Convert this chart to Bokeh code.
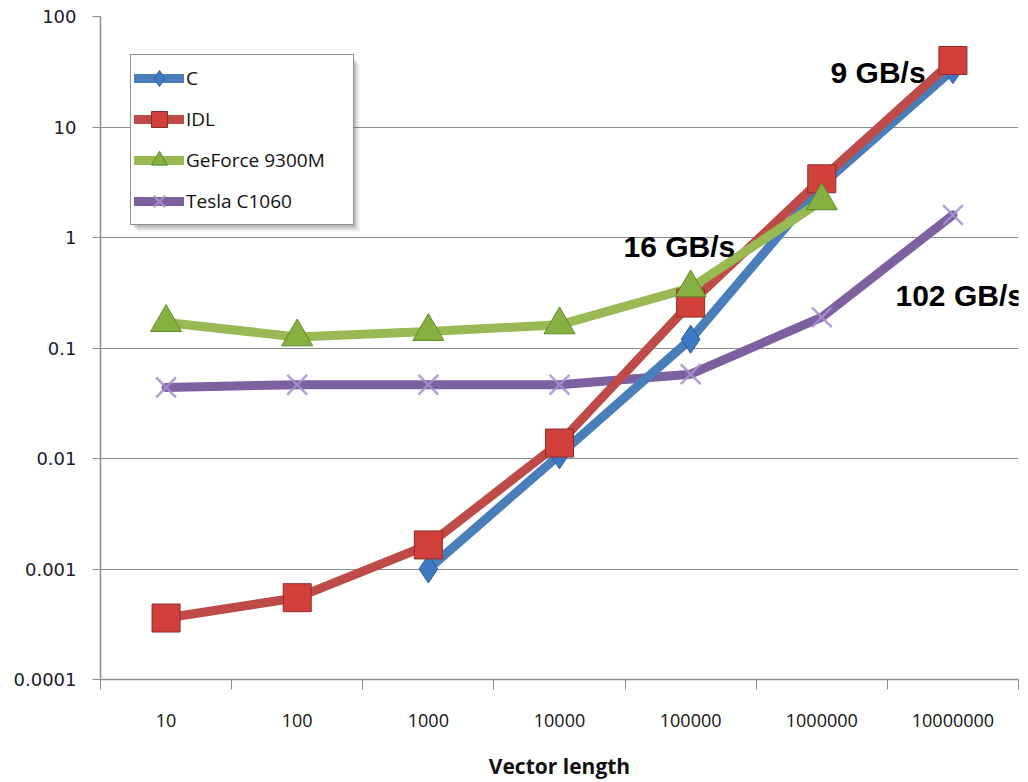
from bokeh.plotting import figure
from bokeh.models import (Range1d, FixedTicker, CustomJSTickFormatter, Legend, LegendItem,
                          Label, BoxAnnotation, ColumnDataSource)
from bokeh.embed import file_html
from bokeh.resources import INLINE

# ---- data ----
categories = ["10", "100", "1000", "10000", "100000", "1000000", "10000000"]
c_vals = [None, None, 0.001, 0.0108, 0.12, 3.0, 33]
idl_vals = [0.00036, 0.00055, 0.00165, 0.0138, 0.255, 3.4, 40]
geforce_vals = [0.17, 0.126, 0.141, 0.162, 0.35, 2.15, None]
tesla_vals = [0.044, 0.0465, 0.0465, 0.0465, 0.058, 0.19, 1.6]
y_ticks = [0.0001, 0.001, 0.01, 0.1, 1, 10, 100]
annotations = [("9 GB/s", 5.567, 31.2), ("16 GB/s", 3.988, 0.837), ("102 GB/s", 6.062, 0.296)]

centers = [i + 0.5 for i in range(len(categories))]
bounds = [i for i in range(len(categories) + 1)]

def src(vals):
    xs = [centers[i] for i, v in enumerate(vals) if v is not None]
    ys = [v for v in vals if v is not None]
    return ColumnDataSource(dict(x=xs, y=ys))

p = figure(width=1028, height=782, y_axis_type="log",
           x_range=Range1d(0, len(categories)), y_range=Range1d(y_ticks[0], y_ticks[-1]),
           output_backend="svg", toolbar_location=None,
           min_border_left=100, min_border_right=10, min_border_top=16, min_border_bottom=102)
p.outline_line_color = None
p.background_fill_color = "white"

grid_col = "#8c8c8c"
# axes
xa = p.xaxis[0]
xa.ticker = FixedTicker(ticks=centers, minor_ticks=bounds)
xa.major_label_overrides = {c: lab for c, lab in zip(centers, categories)}
xa.major_tick_out = 0
xa.major_tick_in = 0
xa.minor_tick_out = 10
xa.minor_tick_in = 0
xa.minor_tick_line_color = grid_col
xa.axis_line_color = grid_col
xa.axis_line_width = 1.5
xa.major_label_text_font = "Open Sans"
xa.major_label_text_font_size = "18px"
xa.major_label_text_color = "#111111"
xa.major_label_standoff = 24
xa.axis_label = "Vector length"
xa.axis_label_text_font = "Open Sans"
xa.axis_label_text_font_style = "bold"
xa.axis_label_text_font_size = "21px"
xa.axis_label_text_color = "#111111"
xa.axis_label_standoff = 22

ya = p.yaxis[0]
ya.ticker = FixedTicker(ticks=y_ticks)
ya.formatter = CustomJSTickFormatter(code="""
    if (tick >= 1) return tick.toFixed(0);
    return tick.toFixed(Math.round(-Math.log10(tick)));
""")
ya.major_tick_out = 8
ya.major_tick_in = 0
ya.major_tick_line_color = grid_col
ya.minor_tick_line_color = None
ya.axis_line_color = grid_col
ya.axis_line_width = 1.5
ya.major_label_text_font = "DejaVu Sans"
ya.major_label_text_font_size = "18px"
ya.major_label_text_color = "#1a1a2e"
ya.major_label_standoff = 16

p.xgrid.visible = False
p.ygrid.ticker = FixedTicker(ticks=y_ticks)
p.ygrid.grid_line_color = grid_col
p.ygrid.grid_line_width = 1.2
p.ygrid.minor_grid_line_color = None

# series
blue, red, green, purple = "#4A7EBB", "#BE4B48", "#98B954", "#7D60A0"
s_c, s_idl, s_gf, s_t = src(c_vals), src(idl_vals), src(geforce_vals), src(tesla_vals)

lw = 9
l_t = p.line("x", "y", source=s_t, line_color=purple, line_width=lw, line_join="round", line_cap="round")
l_c = p.line("x", "y", source=s_c, line_color=blue, line_width=lw, line_join="round", line_cap="round")
l_i = p.line("x", "y", source=s_idl, line_color=red, line_width=lw, line_join="round", line_cap="round")
l_g = p.line("x", "y", source=s_gf, line_color=green, line_width=lw, line_join="round", line_cap="round")

m_t = p.scatter("x", "y", source=s_t, marker="x", size=28, line_color="#A590CC", line_width=2.5, line_alpha=0.85)
m_c = p.scatter("x", "y", source=s_c, marker="diamond", size=28, fill_color="#3F78C4", line_color="#2E5C96", line_width=1)
m_i = p.scatter("x", "y", source=s_idl, marker="square", size=28, fill_color="#D2403C", line_color="#8E2C29", line_width=1)
m_g = p.scatter("x", "y", source=s_gf, marker="triangle", size=31, fill_color="#86B03F", line_color="#5E8A2B", line_width=1)

# legend shadow
for d, a in [(7, 0.10), (5, 0.15), (3, 0.20)]:
    p.add_layout(BoxAnnotation(left=130 + d, right=352 + d, top=56 + d, bottom=224 + d,
                               left_units="canvas", right_units="canvas",
                               top_units="canvas", bottom_units="canvas",
                               fill_color="#555555", fill_alpha=a, line_color=None, level="overlay"))

legend = Legend(items=[
    LegendItem(label="C", renderers=[l_c, m_c]),
    LegendItem(label="IDL", renderers=[l_i, m_i]),
    LegendItem(label="GeForce 9300M", renderers=[l_g, m_g]),
    LegendItem(label="Tesla C1060", renderers=[l_t, m_t]),
], location=(30, 454))
legend.border_line_color = "#222222"
legend.border_line_width = 1.5
legend.background_fill_color = "white"
legend.background_fill_alpha = 1
legend.label_text_font = "Open Sans"
legend.label_text_font_size = "19px"
legend.label_text_color = "#111111"
legend.glyph_width = 50
legend.glyph_height = 40
legend.label_height = 40
legend.spacing = 1
legend.padding = 3
legend.margin = 0
legend.label_standoff = 2
legend.label_width = 164
legend.level = "overlay"
p.add_layout(legend)

for txt, x, y in annotations:
    p.add_layout(Label(x=x, y=y, text=txt, text_font="Liberation Sans", text_font_style="bold",
                       text_font_size="30px", text_color="black", text_baseline="alphabetic"))

open("out.html", "w").write(file_html(p, INLINE))
